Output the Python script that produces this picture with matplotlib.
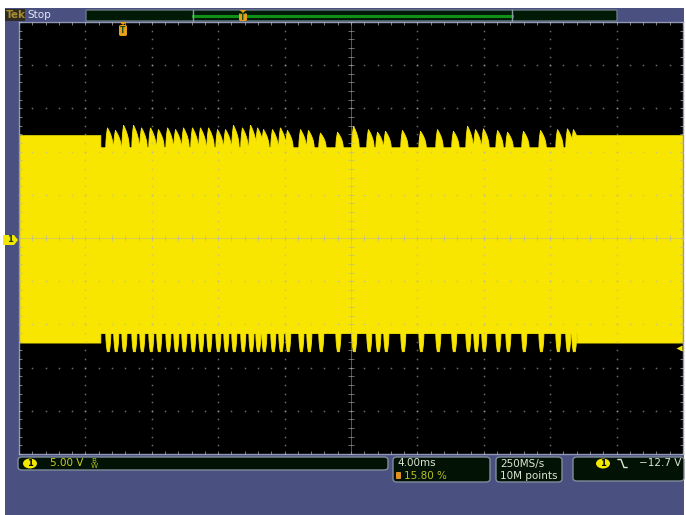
import numpy as np
import matplotlib
matplotlib.use("Agg")
import matplotlib.pyplot as plt
from matplotlib.patches import Rectangle, FancyBboxPatch, Ellipse, Polygon

# ---- data (time in ms, amplitude in V) ----
time_per_div_ms = 4.0
volts_per_div = 5.0
burst_start_ms = -15.1
burst_end_ms = 13.6
idle_top_v = 11.9
idle_bottom_v = -12.1
burst_top_v = 10.5
burst_bottom_v = -11.0
spike_times_ms = [-14.70, -14.22, -13.73, -13.13, -12.65, -12.11, -11.63, -11.08,
                  -10.60, -10.12, -9.58, -9.10, -8.61, -8.07, -7.59, -7.11,
                  -6.57, -6.08, -5.66, -5.30, -4.76, -4.28, -3.86, -3.07,
                  -2.59, -1.87, -0.84, 0.12, 1.02, 1.57, 2.05, 3.07,
                  4.16, 5.18, 6.14, 6.99, 7.47, 7.95, 8.80, 9.40,
                  10.36, 11.39, 12.41, 13.01, 13.37]
spike_top_v = [12.8, 12.5, 13.1, 13.1, 12.8, 12.8, 12.6, 12.8, 12.6, 12.8,
               12.8, 12.8, 12.8, 12.6, 12.6, 13.1, 12.8, 13.1, 12.8, 12.6,
               12.6, 12.8, 12.5, 12.6, 12.5, 12.2, 12.3, 13.0, 12.6, 12.3,
               12.4, 12.5, 12.4, 12.6, 12.4, 13.0, 12.6, 12.7, 12.5, 12.3,
               12.4, 12.5, 12.6, 12.7, 12.6]
spike_bottom_v = -13.1
trigger_level_v = -12.7

scale_text = "5.00 V"
timebase_text = "4.00ms"
trig_pos_text = "15.80 %"
rate_text = "250MS/s"
points_text = "10M points"
trig_text = "\u221212.7 V"

W, H = 686, 515
SLATE = "#4a5080"
YELLOW = "#f8e600"
BOX = "#021205"
BOX_EDGE = "#7f8e9c"
LIGHT = "#dde6d2"
GRID = "#b4b4b4"


def fx(x):
    return x / W


def fy(y):
    return 1 - y / H


fig = plt.figure(figsize=(W / 100, H / 100), dpi=100)
fig.patch.set_facecolor("white")
fig.patches.append(Rectangle((fx(5), 0), fx(684) - fx(5), fy(8), transform=fig.transFigure,
                             facecolor=SLATE, edgecolor="none", zorder=-5))

ax = fig.add_axes([fx(19), fy(454), fx(683) - fx(19), fy(22) - fy(454)])
ax.set_facecolor("black")
half_w = 5 * time_per_div_ms
half_h = 5 * volts_per_div
ax.set_xlim(-half_w, half_w)
ax.set_ylim(-half_h, half_h)
ax.set_xticks([])
ax.set_yticks([])
for sp in ax.spines.values():
    sp.set_color("#8f97b5")
    sp.set_linewidth(1.0)

# ---- envelope of the dense carrier ----
t = np.linspace(-half_w, half_w, 16000)
in_burst = (t >= burst_start_ms) & (t <= burst_end_ms)
top = np.where(in_burst, burst_top_v, idle_top_v)
bottom = np.where(in_burst, burst_bottom_v, idle_bottom_v)
for ts, pk in zip(spike_times_ms, spike_top_v):
    rise = np.clip((t - (ts - 0.10)) / 0.10, 0, 1) ** 0.5
    fall = np.clip(1 - (t - ts) / 0.34, 0, 1) ** 0.5
    shape = np.where(t < ts, rise, fall)
    top = np.maximum(top, burst_top_v + (pk - burst_top_v) * shape)
    d = np.abs(t - (ts + 0.05))
    b_shape = np.clip(1 - np.maximum(d - 0.06, 0) / 0.09, 0, 1) ** 0.5
    bottom = np.minimum(bottom, burst_bottom_v + (spike_bottom_v - burst_bottom_v) * b_shape)
ax.fill_between(t, bottom, top, color=YELLOW, linewidth=0.6, edgecolor=YELLOW, zorder=2)

# ---- graticule ----
minor_x = np.arange(-half_w, half_w + 1e-6, time_per_div_ms / 5)
minor_y = np.arange(-half_h, half_h + 1e-6, volts_per_div / 5)
for k in range(-4, 5):
    if k == 0:
        continue
    xv = k * time_per_div_ms
    ax.plot(np.full_like(minor_y, xv), minor_y, ls="none", marker="s", ms=1.1,
            mec="none", mfc=GRID, alpha=0.6, zorder=3)
    yv = k * volts_per_div
    ax.plot(minor_x, np.full_like(minor_x, yv), ls="none", marker="s", ms=1.1,
            mec="none", mfc=GRID, alpha=0.6, zorder=3)
ax.axvline(0, color=GRID, lw=0.6, alpha=0.55, zorder=3)
ax.axhline(0, color=GRID, lw=0.6, alpha=0.55, zorder=3)
ax.plot(minor_x, np.zeros_like(minor_x), ls="none", marker="|", ms=4, mew=0.7,
        color=GRID, alpha=0.6, zorder=3)
ax.plot(np.zeros_like(minor_y), minor_y, ls="none", marker="_", ms=4, mew=0.7,
        color=GRID, alpha=0.6, zorder=3)
for yv in (-half_h, half_h):
    ax.plot(minor_x, np.full_like(minor_x, yv), ls="none", marker="|", ms=5, mew=0.7,
            color=GRID, alpha=0.7, zorder=3)
for xv in (-half_w, half_w):
    ax.plot(np.full_like(minor_y, xv), minor_y, ls="none", marker="_", ms=5, mew=0.7,
            color=GRID, alpha=0.7, zorder=3)

# trigger level arrow on the right edge
ax.plot([0.994], [trigger_level_v], transform=ax.get_yaxis_transform(), marker="<",
        ms=5, color=YELLOW, mec="none", clip_on=False, zorder=5)

# ---- overlays in pixel space ----
def rbox(x0, y0, x1, y1, fc=BOX, ec=BOX_EDGE, r=4, lw=1.0, z=1):
    p = FancyBboxPatch((fx(x0), fy(y1)), fx(x1) - fx(x0), fy(y0) - fy(y1),
                       boxstyle=f"round,pad=0,rounding_size={r / W}",
                       transform=fig.transFigure, facecolor=fc, edgecolor=ec,
                       linewidth=lw, zorder=z)
    fig.patches.append(p)


def txt(x, y, s, color=LIGHT, size=7.5, ha="left", weight="normal", **kw):
    fig.text(fx(x), fy(y), s, color=color, fontsize=size, ha=ha, va="center",
             fontweight=weight, family="DejaVu Sans", zorder=8, **kw)


def ch_badge(cx, cy):
    e = Ellipse((fx(cx), fy(cy)), 14 / W, 10 / H, transform=fig.transFigure,
                facecolor="#f2e800", edgecolor="none", zorder=3)
    fig.patches.append(e)
    txt(cx, cy, "1", color="black", size=6, ha="center", weight="bold")


def trig_marker(cx, y0, h):
    tri = Polygon([(fx(cx - 3.5), fy(y0)), (fx(cx + 3.5), fy(y0)), (fx(cx), fy(y0 + 3))],
                  closed=True, transform=fig.transFigure, facecolor="#e8a018",
                  edgecolor="none", zorder=6)
    fig.patches.append(tri)
    rbox(cx - 4, y0 + 3, cx + 4, y0 + h, fc="#e8a018", ec="none", r=2, z=6)
    fig.text(fx(cx), fy(y0 + 3 + (h - 3) / 2), "T", color="#234a10", fontsize=5.5,
             ha="center", va="center", fontweight="bold", zorder=7)


# top status bar
rbox(5, 9, 25, 21, fc="#2e2c22", ec="none", r=0)
txt(6, 15.5, "Tek", color="#a88c30", size=7.5, weight="bold")
txt(27, 15.5, "Stop", color="#e2e6f2", size=7.5)
rbox(86, 10, 617, 21, fc="#001a05", ec="#6a7a84", r=1)
fig.lines.append(plt.Line2D([fx(193), fx(512)], [fy(15.5), fy(15.5)], transform=fig.transFigure,
                            color="#12901a", lw=2.2, zorder=3))
for xv in (193, 512):
    fig.lines.append(plt.Line2D([fx(xv), fx(xv)], [fy(10), fy(21)], transform=fig.transFigure,
                                color="#8a9aa0", lw=1, zorder=3))
trig_marker(243, 10, 11)
trig_marker(123, 22, 14)

# channel 1 ground tag on the left
tag = Polygon([(fx(3), fy(235)), (fx(14), fy(235)), (fx(18), fy(240)), (fx(14), fy(245)),
               (fx(3), fy(245))], closed=True, transform=fig.transFigure,
              facecolor="#f2e800", edgecolor="none", zorder=5)
fig.patches.append(tag)
fig.text(fx(9.5), fy(240), "1", color="#1a3a08", fontsize=6, ha="center", va="center",
         fontweight="bold", zorder=6)

# bottom readouts
rbox(18, 457, 388, 470)
ch_badge(30, 463.5)
txt(50, 463.5, scale_text, color="#c8d020", size=7.5)
txt(91, 463.5, "B\nW", color="#a8c020", size=5.2, linespacing=0.75)

rbox(393, 457, 490, 482)
txt(397, 463.5, timebase_text)
rbox(396, 472, 401, 479, fc="#e09020", ec="none", r=1)
txt(404, 476, trig_pos_text, color="#b8c020")

rbox(496, 457, 562, 482)
txt(500, 463.5, rate_text)
txt(500, 476, points_text)

rbox(573, 457, 684, 481)
ch_badge(603, 463.5)
fig.lines.append(plt.Line2D([fx(618), fx(621), fx(624), fx(627)],
                            [fy(459.5), fy(459.5), fy(467.5), fy(467.5)],
                            transform=fig.transFigure, color=LIGHT, lw=1, zorder=3))
txt(681, 463.5, trig_text, ha="right")

fig.savefig("out.png", dpi=100, facecolor=fig.get_facecolor())
